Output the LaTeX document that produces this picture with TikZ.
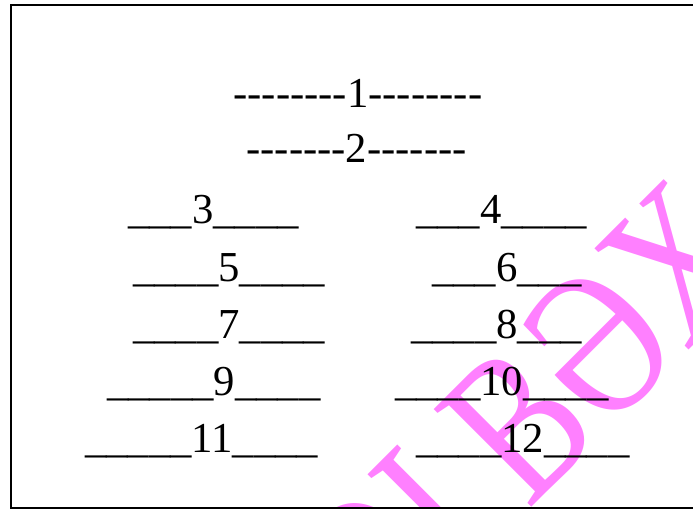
\documentclass[tikz,border=0pt]{standalone}
\usepackage{fontspec}
\usepackage{graphicx}
\setmainfont{Liberation Serif}
\newfontfamily\wmfont{Liberation Serif}
\definecolor{wmpink}{RGB}{255,128,255}
\newcommand\hy{\mbox{-}}
\newcommand\us{\_}
\tikzset{
  line/.style={anchor=base west, inner sep=0pt, outer sep=0pt, font=\fontsize{42.7}{50}\selectfont},
  wmark/.style={anchor=base west, inner sep=0pt, outer sep=0pt, text=wmpink, rotate=45},
  frame/.style={draw=black, line width=2pt}
}
\begin{document}
\begin{tikzpicture}[x=1pt,y=-1pt]
\useasboundingbox (0,0) rectangle (693,511);
\fill[white] (0,0) rectangle (693,511);
\begin{scope}
\clip (11,5) rectangle (720,508);
\node[wmark] (wm) at (379.5,658.7) {\scalebox{1}[1.31]{\wmfont\fontsize{161}{161}\selectfont OI B\symbol{"018F}X}};
\end{scope}
\coordinate (fa) at (11,5);
\coordinate (fb) at (740,508);
\draw[frame] (fa) rectangle (fb);
\node[line] (t1) at (233.4,107) {\hy\hy\hy\hy\hy\hy\hy\hy1\hy\hy\hy\hy\hy\hy\hy\hy};
\node[line] (t2) at (246.4,162) {\hy\hy\hy\hy\hy\hy\hy2\hy\hy\hy\hy\hy\hy\hy};
\node[line] (t3) at (128,223) {\us\us\us3\us\us\us\us};
\node[line] (t4) at (416,223) {\us\us\us4\us\us\us\us};
\node[line] (t5) at (133,281) {\us\us\us\us5\us\us\us\us};
\node[line] (t6) at (432,281) {\us\us\us6\us\us\us};
\node[line] (t7) at (133,338) {\us\us\us\us7\us\us\us\us};
\node[line] (t8) at (411,338) {\us\us\us\us8\us\us\us};
\node[line] (t9) at (107,395) {\us\us\us\us\us9\us\us\us\us};
\node[line] (t10) at (395,395) {\us\us\us\us10\us\us\us\us};
\node[line] (t11) at (85,452) {\us\us\us\us\us11\us\us\us\us};
\node[line] (t12) at (416,452) {\us\us\us\us12\us\us\us\us};
\end{tikzpicture}
\end{document}
